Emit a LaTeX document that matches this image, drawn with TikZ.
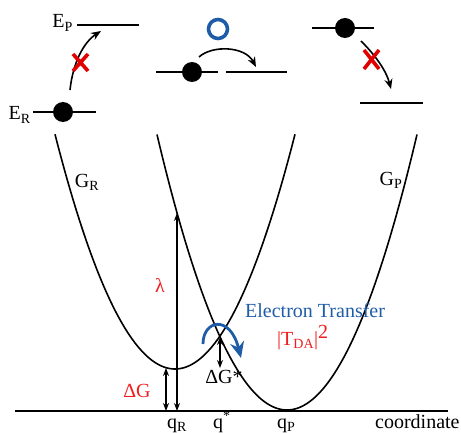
\documentclass[tikz,border=0pt]{standalone}
\usepackage{fontspec}
\setmainfont{Liberation Serif}
\usetikzlibrary{arrows.meta}
\definecolor{tblue}{RGB}{31,92,168}
\definecolor{tred}{RGB}{240,30,30}
\definecolor{xred}{RGB}{225,0,0}
\begin{document}
\begin{tikzpicture}[x=1pt,y=-1pt,
  font=\fontsize{20}{24}\selectfont,
  curve/.style={line width=1.6pt},
  levelline/.style={line width=2.6pt},
  dotnode/.style={circle,fill=black,inner sep=0pt,minimum size=20pt},
  arr/.style={line width=1.6pt,-{Stealth[length=10pt,width=8pt]}},
  darr/.style={line width=1.4pt,{Stealth[length=8pt,width=6pt]}-{Stealth[length=8pt,width=6pt]}},
  crossmark/.style={xred,line width=3.6pt},
  lbl/.style={inner sep=0pt}]
\useasboundingbox (0,0) rectangle (461,433);

% ---------- level diagrams ----------
% left
\coordinate (ERa) at (33,112); \coordinate (ERb) at (96,112);
\coordinate (EPa) at (77,25);  \coordinate (EPb) at (139,25);
\draw[levelline] (ERa) -- (ERb);
\draw[levelline] (EPa) -- (EPb);
\node[dotnode] (d1) at (63,112) {};
\node[lbl,anchor=base east] (ER) at (31,120) {E\textsubscript{R}};
\node[lbl,anchor=base east] (EP) at (73,28) {E\textsubscript{P}};
\coordinate (a1s) at (70,90); \coordinate (a1e) at (101,31);
\draw[arr] (a1s) .. controls (73,62) and (84,42) .. (a1e);
\draw[crossmark] (73,54) -- (88,71) (88,54) -- (73,71);

% middle
\coordinate (Ma) at (156,72); \coordinate (Mb) at (218,72);
\coordinate (Mc) at (226,72); \coordinate (Md) at (287,72);
\draw[levelline] (Ma) -- (Mb);
\draw[levelline] (Mc) -- (Md);
\node[dotnode] (d2) at (192,72) {};
\coordinate (a2s) at (199,57); \coordinate (a2e) at (256,67);
\draw[arr] (a2s) .. controls (212,45) and (245,46) .. (a2e);
\draw[tblue,line width=3.6pt] (218,29) circle[radius=9.5];

% right
\coordinate (Ra) at (312,28); \coordinate (Rb) at (374,28);
\coordinate (Rc) at (360,103); \coordinate (Rd) at (423,103);
\draw[levelline] (Ra) -- (Rb);
\draw[levelline] (Rc) -- (Rd);
\node[dotnode] (d3) at (345,28) {};
\coordinate (a3s) at (361,41); \coordinate (a3e) at (391,89);
\draw[arr] (a3s) .. controls (375,55) and (386,70) .. (a3e);
\draw[crossmark] (364,50) -- (379,69) (379,50) -- (364,69);

% ---------- parabolas ----------
\draw[curve] plot[domain=55:295,samples=100] (\x,{369-(0.12767*(\x-175))^2});
\draw[curve] plot[domain=157:417,samples=100] (\x,{410-(0.12767*(\x-287))^2});

% baseline
\coordinate (B0) at (15,411); \coordinate (B1) at (448,411);
\draw[line width=1.8pt] (B0) -- (B1);

% ---------- arrows ----------
\coordinate (dGtop) at (166,368); \coordinate (dGbot) at (166,411);
\draw[darr] (dGtop) -- (dGbot);
\coordinate (laTop) at (177,213); \coordinate (laBot) at (177,411);
\draw[darr] (laTop) -- (laBot);
\coordinate (dGsTop) at (220,337); \coordinate (dGsBot) at (220,368);
\draw[darr] (dGsTop) -- (dGsBot);

% blue electron-transfer arc
\coordinate (ETs) at (203,344); \coordinate (ETe) at (241,358);
\draw[tblue,line width=2.8pt,-{Stealth[length=16pt,width=14pt]}]
  (ETs) .. controls (203,320) and (230,314) .. (ETe);

% ---------- labels ----------
\node[lbl] (GR) at (87,182) {G\textsubscript{R}};
\node[lbl] (GP) at (391,180) {G\textsubscript{P}};
\node[lbl,text=tred] (lam) at (160,285) {λ};
\node[lbl,text=tred,anchor=base] (dG) at (137,397) {ΔG};
\node[lbl,anchor=base] (dGs) at (224,383) {ΔG*};
\node[lbl,text=tblue,anchor=base west] (ET) at (245,317) {Electron Transfer};
\node[lbl,text=tred,anchor=base west] (TDA) at (277,345) {|T\textsubscript{DA}|\raisebox{7pt}{2}};
\node[lbl,anchor=base west] (qR) at (167,428) {q\textsubscript{R}};
\node[lbl,anchor=base west] (qs) at (213,428) {q\textsuperscript{*}};
\node[lbl,anchor=base west] (qP) at (277,428) {q\textsubscript{P}};
\node[lbl,anchor=base west] (coord) at (375,428) {coordinate};
\end{tikzpicture}
\end{document}
